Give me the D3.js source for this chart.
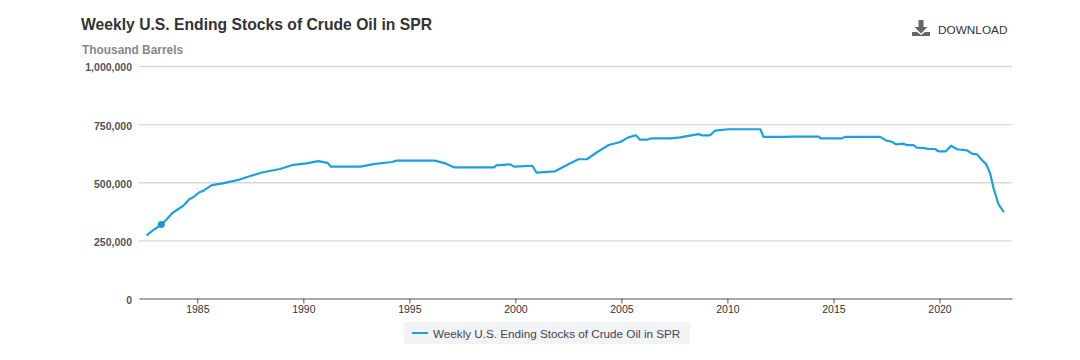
<!DOCTYPE html>
<html>
<head>
<meta charset="utf-8">
<script src="https://cdn.jsdelivr.net/npm/d3@7"></script>
<style>
  html, body { margin: 0; padding: 0; background: #fff; }
  svg { display: block; font-family: "Liberation Sans", Arial, sans-serif; }
</style>
</head>
<body>
<svg></svg>
<script>
const chartTitle = "Weekly U.S. Ending Stocks of Crude Oil in SPR";
const unitLabel = "Thousand Barrels";
const seriesName = "Weekly U.S. Ending Stocks of Crude Oil in SPR";

const yearTicks = [1985, 1990, 1995, 2000, 2005, 2010, 2015, 2020];
const valueTicks = [0, 250000, 500000, 750000, 1000000];

// decimal year and thousand barrels
const years = [
  1982.6, 1983.0, 1983.3, 1983.55, 1983.8, 1984.1, 1984.34, 1984.62, 1984.8, 1985.1,
  1985.3, 1985.68, 1986.2, 1986.93, 1987.5, 1988.1, 1988.9, 1989.53, 1990.15, 1990.7,
  1991.15, 1991.3, 1992.7, 1993.3, 1994.17, 1994.4, 1996.2, 1996.7, 1997.1, 1999.0,
  1999.1, 1999.75, 1999.95, 2000.8, 2001.0, 2001.87, 2002.5, 2002.97, 2003.37, 2003.85,
  2004.4, 2004.95, 2005.33, 2005.68, 2005.88, 2006.2, 2006.43, 2007.3, 2007.77, 2008.63,
  2008.8, 2009.18, 2009.42, 2010.05, 2011.55, 2011.7, 2012.64, 2013.1, 2014.3, 2014.4,
  2015.4, 2015.55, 2017.2, 2017.5, 2017.75, 2017.95, 2018.3, 2018.45, 2018.77, 2018.93,
  2019.3, 2019.47, 2019.8, 2019.95, 2020.3, 2020.55, 2020.83, 2021.3, 2021.53, 2021.77,
  2022.0, 2022.2, 2022.39, 2022.55, 2022.78, 2023.04
];
const stocks = [
  271, 299, 318, 340, 366, 385, 399, 427, 435, 457,
  464, 488, 495, 510, 527, 543, 557, 575, 581, 591,
  583, 567, 567, 578, 587, 593, 593, 581, 564, 564,
  573, 577, 567, 571, 541, 547, 577, 599, 599, 629,
  660, 673, 693, 702, 683, 683, 689, 689, 693, 707,
  702, 702, 722, 728, 728, 695, 695, 696, 696, 689,
  689, 695, 695, 679, 674, 663, 666, 660, 660, 649,
  647, 643, 643, 633, 633, 657, 642, 637, 623, 620,
  596, 578, 538, 474, 406, 371
];
const markerIndex = 2;

const width = 1080, height = 360;
const marginLeft = 139, marginRight = 68, marginTop = 66, marginBottom = 61.5;
const lineColor = "#1ba1de";

const x = d3.scaleLinear([1982.25, 2023.42], [marginLeft, width - marginRight]);
const y = d3.scaleLinear([0, 1000000], [height - marginBottom, marginTop]);

const svg = d3.select("svg")
  .attr("width", width)
  .attr("height", height)
  .attr("viewBox", [0, 0, width, height]);

svg.append("text")
  .attr("x", 81).attr("y", 30)
  .attr("font-size", 15.7).attr("font-weight", 700).attr("fill", "#333")
  .text(chartTitle);

svg.append("text")
  .attr("x", 82).attr("y", 54)
  .attr("font-size", 11.9).attr("font-weight", 700).attr("fill", "#888")
  .text(unitLabel);

// download button
const dl = svg.append("g").attr("transform", "translate(912,20)");
dl.append("path")
  .attr("fill", "#666")
  .attr("d", "M6.5 0h5v7h4l-6.5 6.5L2.5 7h4zM0 12h5l4 3 4-3h5v4H0z");
dl.append("text")
  .attr("x", 26).attr("y", 13.5)
  .attr("font-size", 11.8).attr("fill", "#333")
  .text("DOWNLOAD");

svg.append("g")
  .attr("transform", `translate(${marginLeft},0)`)
  .call(d3.axisLeft(y).tickValues(valueTicks).tickSize(0).tickPadding(7).tickFormat(d3.format(",")))
  .call(g => g.select(".domain").remove())
  .call(g => g.selectAll("text")
    .attr("y", 1.5)
    .attr("font-family", "Liberation Sans, Arial, sans-serif")
    .attr("font-size", 10.5).attr("font-weight", 700).attr("fill", "#555"))
  .call(g => g.selectAll(".tick").filter(d => d > 0).append("line")
    .attr("x2", width - marginLeft - marginRight)
    .attr("stroke", "#d8d8d8").attr("stroke-width", 1.3));

svg.append("g")
  .attr("transform", `translate(0,${height - marginBottom})`)
  .call(d3.axisBottom(x).tickValues(yearTicks).tickSize(5).tickSizeOuter(0).tickPadding(2).tickFormat(d3.format("d")))
  .call(g => g.select(".domain").attr("stroke", "#555").attr("stroke-width", 1.2))
  .call(g => g.selectAll(".tick line").attr("stroke", "#555"))
  .call(g => g.selectAll("text")
    .attr("font-family", "Liberation Sans, Arial, sans-serif")
    .attr("font-size", 10.5).attr("fill", "#333"));

const line = d3.line()
  .x((d, i) => x(years[i]))
  .y(d => y(d * 1000));

svg.append("path")
  .datum(stocks)
  .attr("fill", "none")
  .attr("stroke", lineColor)
  .attr("stroke-width", 2.2)
  .attr("stroke-linejoin", "round")
  .attr("d", line);

svg.append("circle")
  .attr("cx", x(years[markerIndex]))
  .attr("cy", y(stocks[markerIndex] * 1000))
  .attr("r", 3.5)
  .attr("fill", "#0f9ad8");

// legend
const legend = svg.append("g").attr("transform", "translate(404,322)");
legend.append("rect")
  .attr("width", 286).attr("height", 22)
  .attr("fill", "#f1f3f4");
legend.append("line")
  .attr("x1", 8).attr("x2", 24).attr("y1", 11).attr("y2", 11)
  .attr("stroke", lineColor).attr("stroke-width", 2);
legend.append("text")
  .attr("x", 29).attr("y", 15.5)
  .attr("font-size", 11.7).attr("fill", "#445")
  .text(seriesName);
</script>
</body>
</html>
